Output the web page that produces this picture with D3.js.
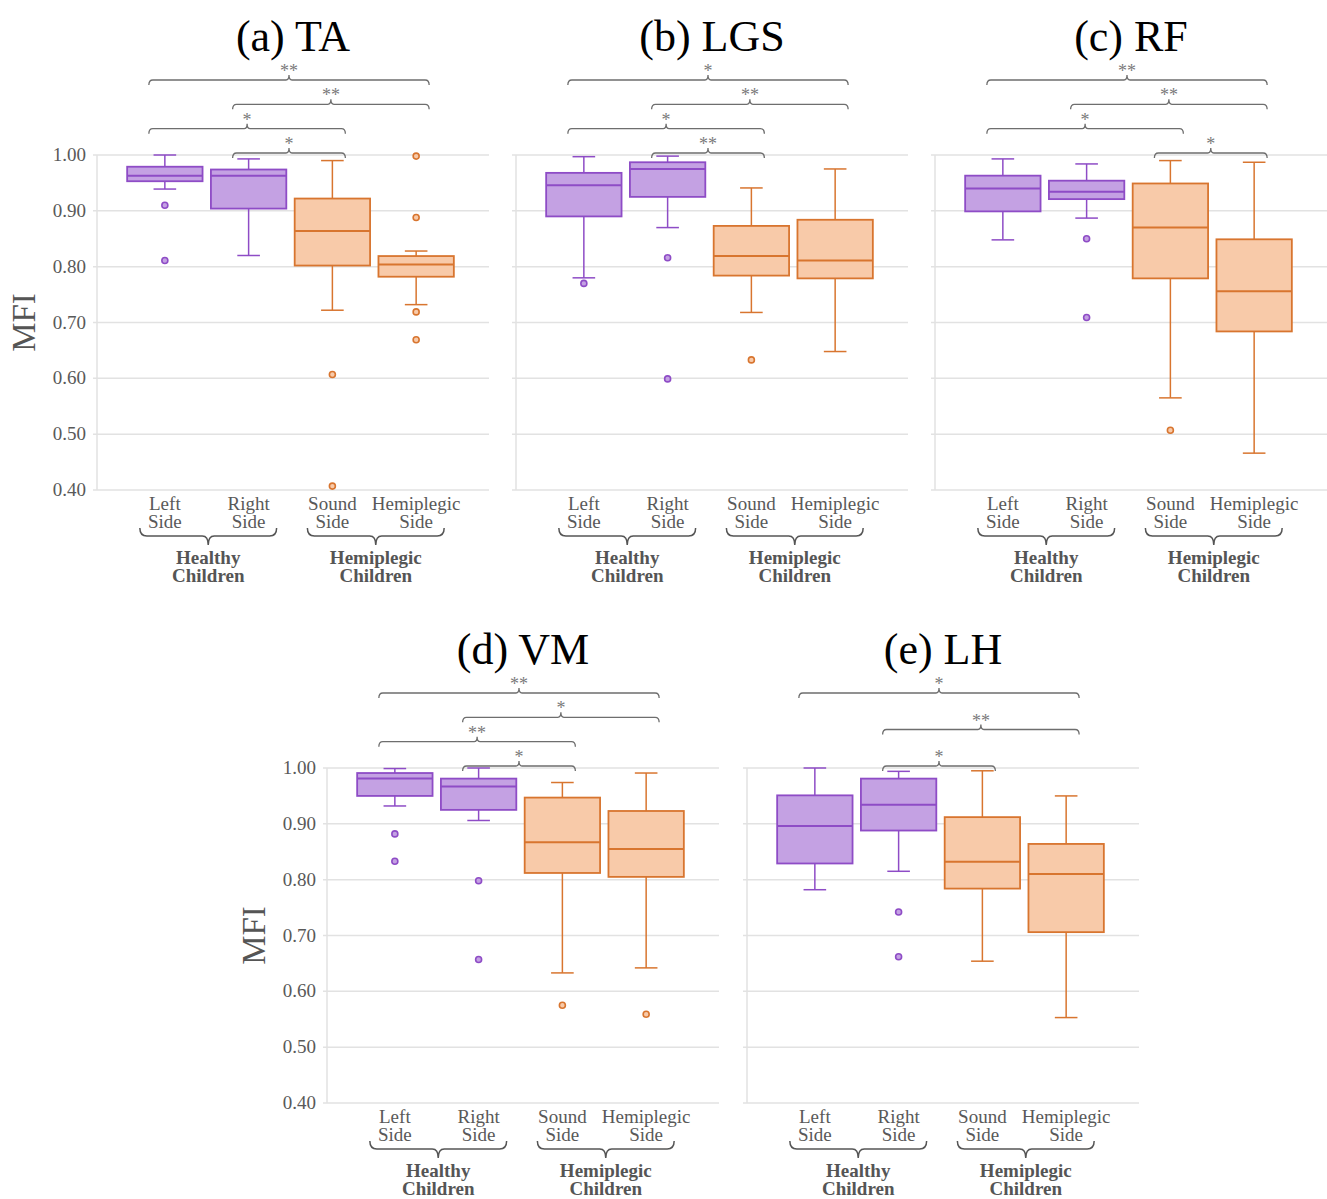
<!DOCTYPE html>
<html>
<head>
<meta charset="utf-8">
<script src="https://cdn.jsdelivr.net/npm/d3@7"></script>
<style>
body { margin: 0; background: #fff; }
svg text { font-family: "Liberation Serif", "Times New Roman", serif; }
</style>
</head>
<body>
<div id="chart"></div>
<script>
// Categories and group labels
const catLine1 = ["Left", "Right", "Sound", "Hemiplegic"];
const catLine2 = ["Side", "Side", "Side", "Side"];
const groupNames = [["Healthy", "Children"], ["Hemiplegic", "Children"]];
const yTicks = [0.40, 0.50, 0.60, 0.70, 0.80, 0.90, 1.00];
const titles = ["(a) TA", "(b) LGS", "(c) RF", "(d) VM", "(e) LH"];

// Box stats: [lower whisker, Q1, median, Q3, upper whisker]
const boxTA = [[0.939, 0.953, 0.963, 0.979, 1.000], [0.820, 0.904, 0.963, 0.974, 0.993],
               [0.722, 0.802, 0.864, 0.922, 0.990], [0.732, 0.782, 0.804, 0.819, 0.828]];
const outTA = [[0.910, 0.811], [], [0.607, 0.407], [0.998, 0.888, 0.719, 0.669]];
const sigTA = [[0, 3, "**"], [1, 3, "**"], [0, 2, "*"], [1, 2, "*"]];

const boxLGS = [[0.780, 0.890, 0.946, 0.968, 0.997], [0.870, 0.925, 0.975, 0.987, 0.998],
                [0.718, 0.784, 0.819, 0.873, 0.941], [0.648, 0.779, 0.811, 0.884, 0.975]];
const outLGS = [[0.770], [0.816, 0.599], [0.633], []];
const sigLGS = [[0, 3, "*"], [1, 3, "**"], [0, 2, "*"], [1, 2, "**"]];

const boxRF = [[0.848, 0.899, 0.940, 0.963, 0.993], [0.887, 0.921, 0.934, 0.954, 0.984],
               [0.565, 0.779, 0.870, 0.949, 0.990], [0.466, 0.684, 0.756, 0.849, 0.987]];
const outRF = [[], [0.850, 0.709], [0.507], []];
const sigRF = [[0, 3, "**"], [1, 3, "**"], [0, 2, "*"], [2, 3, "*"]];

const boxVM = [[0.932, 0.950, 0.981, 0.991, 0.999], [0.906, 0.925, 0.967, 0.981, 1.000],
               [0.633, 0.812, 0.867, 0.947, 0.974], [0.642, 0.805, 0.855, 0.923, 0.991]];
const outVM = [[0.882, 0.833], [0.798, 0.657], [0.575], [0.559]];
const sigVM = [[0, 3, "**"], [1, 3, "*"], [0, 2, "**"], [1, 2, "*"]];

const boxLH = [[0.782, 0.829, 0.896, 0.951, 1.000], [0.815, 0.888, 0.934, 0.981, 0.994],
               [0.654, 0.784, 0.832, 0.912, 0.995], [0.553, 0.706, 0.810, 0.864, 0.950]];
const outLH = [[], [0.742, 0.662], [], []];
const sigLH = [[0, 3, "*"], [1, 3, "**"], [1, 2, "*"]];

const fills = ["#c4a1e3", "#c4a1e3", "#f8caa9", "#f8caa9"];
const strokes = ["#8e4cc6", "#8e4cc6", "#d8752f", "#d8752f"];

const width = 1327, height = 1199;
const plotW = 392, plotH = 335;

const svg = d3.select("#chart").append("svg")
    .attr("width", width)
    .attr("height", height)
    .style("background", "#fff");

// Panel origins (top-left of the plot area)
const panels = [
    { x: 97, y: 155, title: titles[0], box: boxTA, out: outTA, sig: sigTA, yAxis: true },
    { x: 516, y: 155, title: titles[1], box: boxLGS, out: outLGS, sig: sigLGS, yAxis: false },
    { x: 935, y: 155, title: titles[2], box: boxRF, out: outRF, sig: sigRF, yAxis: false },
    { x: 327, y: 768, title: titles[3], box: boxVM, out: outVM, sig: sigVM, yAxis: true },
    { x: 747, y: 768, title: titles[4], box: boxLH, out: outLH, sig: sigLH, yAxis: false }
];

const x = d3.scaleBand()
    .domain(d3.range(4))
    .range([0, 387])
    .paddingInner(0.1)
    .paddingOuter(0.36);

const y = d3.scaleLinear().domain([0.4, 1.0]).range([plotH, 0]);

panels.forEach(p => drawPanel(p));

function drawPanel(p) {
    const g = svg.append("g").attr("transform", `translate(${p.x},${p.y})`);
    const bw = x.bandwidth();
    const cx = i => x(i) + bw / 2;

    // grid lines
    g.selectAll(".grid").data(yTicks).enter().append("line")
        .attr("x1", -4).attr("x2", plotW)
        .attr("y1", d => y(d)).attr("y2", d => y(d))
        .attr("stroke", "#e2e2e2").attr("stroke-width", 1.5);

    // vertical axis line
    g.append("line")
        .attr("x1", 0).attr("x2", 0).attr("y1", 0).attr("y2", plotH)
        .attr("stroke", "#e2e2e2").attr("stroke-width", 1.5);

    if (p.yAxis) {
        g.selectAll(".tick").data(yTicks).enter().append("text")
            .attr("x", -11).attr("y", d => y(d) + 6)
            .attr("text-anchor", "end")
            .attr("font-size", 19).attr("fill", "#595959")
            .text(d => d.toFixed(2));
        g.append("text")
            .attr("transform", `translate(${-62},${plotH / 2}) rotate(-90)`)
            .attr("text-anchor", "middle")
            .attr("font-size", 33).attr("fill", "#555")
            .text("MFI");
    }

    // title
    g.append("text")
        .attr("x", plotW / 2).attr("y", -104)
        .attr("text-anchor", "middle")
        .attr("font-size", 44).attr("fill", "#000")
        .text(p.title);

    // boxes
    const boxes = g.selectAll(".box").data(p.box).enter().append("g");
    boxes.append("line")
        .attr("x1", (d, i) => cx(i)).attr("x2", (d, i) => cx(i))
        .attr("y1", d => y(d[0])).attr("y2", d => y(d[1]))
        .attr("stroke", (d, i) => strokes[i]).attr("stroke-width", 1.5);
    boxes.append("line")
        .attr("x1", (d, i) => cx(i)).attr("x2", (d, i) => cx(i))
        .attr("y1", d => y(d[3])).attr("y2", d => y(d[4]))
        .attr("stroke", (d, i) => strokes[i]).attr("stroke-width", 1.5);
    [0, 4].forEach(k => {
        boxes.append("line")
            .attr("x1", (d, i) => cx(i) - bw * 0.15).attr("x2", (d, i) => cx(i) + bw * 0.15)
            .attr("y1", d => y(d[k])).attr("y2", d => y(d[k]))
            .attr("stroke", (d, i) => strokes[i]).attr("stroke-width", 1.5);
    });
    boxes.append("rect")
        .attr("x", (d, i) => x(i)).attr("width", bw)
        .attr("y", d => y(d[3])).attr("height", d => y(d[1]) - y(d[3]))
        .attr("fill", (d, i) => fills[i])
        .attr("stroke", (d, i) => strokes[i]).attr("stroke-width", 1.8);
    boxes.append("line")
        .attr("x1", (d, i) => x(i)).attr("x2", (d, i) => x(i) + bw)
        .attr("y1", d => y(d[2])).attr("y2", d => y(d[2]))
        .attr("stroke", (d, i) => strokes[i]).attr("stroke-width", 2);

    // outliers
    p.out.forEach((vals, i) => {
        g.selectAll(null).data(vals).enter().append("circle")
            .attr("cx", cx(i)).attr("cy", d => y(d)).attr("r", 3)
            .attr("fill", fills[i]).attr("stroke", strokes[i]).attr("stroke-width", 1.6);
    });

    // significance brackets
    const step = 73 / (p.sig.length - 1);
    p.sig.forEach((s, k) => {
        const x1 = cx(s[0]) - 16, x2 = cx(s[1]) + 13;
        const by = -75 + k * step;
        const xm = (x1 + x2) / 2;
        g.append("path")
            .attr("d", `M${x1},${by + 5} Q${x1},${by} ${x1 + 4},${by} L${xm - 3},${by} Q${xm},${by} ${xm},${by - 5} Q${xm},${by} ${xm + 3},${by} L${x2 - 4},${by} Q${x2},${by} ${x2},${by + 5}`)
            .attr("fill", "none").attr("stroke", "#6e6e6e").attr("stroke-width", 1.3);
        g.append("text")
            .attr("x", xm).attr("y", by - 3)
            .attr("text-anchor", "middle")
            .attr("font-size", 18).attr("fill", "#7a7a7a")
            .text(s[2]);
    });

    // category labels (two lines in one text)
    catLine1.forEach((t, i) => {
        const txt = g.append("text")
            .attr("text-anchor", "middle").attr("font-size", 19).attr("fill", "#595959");
        txt.append("tspan").attr("x", cx(i)).attr("y", plotH + 20).text(t);
        txt.append("tspan").attr("x", cx(i)).attr("y", plotH + 38).text(catLine2[i]);
    });

    // group braces and labels
    groupNames.forEach((names, gi) => {
        const xl = cx(gi * 2) - 25, xr = cx(gi * 2 + 1) + 28;
        const xm = (xl + xr) / 2;
        const y0 = plotH + 38, y1 = plotH + 46, y2 = plotH + 55;
        g.append("path")
            .attr("d", `M${xl},${y0} Q${xl},${y1} ${xl + 7},${y1} L${xm - 6},${y1} Q${xm},${y1} ${xm},${y2} Q${xm},${y1} ${xm + 6},${y1} L${xr - 7},${y1} Q${xr},${y1} ${xr},${y0}`)
            .attr("fill", "none").attr("stroke", "#555").attr("stroke-width", 1.5);
        const txt = g.append("text")
            .attr("text-anchor", "middle").attr("font-size", 19)
            .attr("font-weight", "bold").attr("fill", "#555");
        names.forEach((t, li) => {
            txt.append("tspan").attr("x", xm).attr("y", plotH + 74 + li * 18).text(t);
        });
    });
}
</script>
</body>
</html>
